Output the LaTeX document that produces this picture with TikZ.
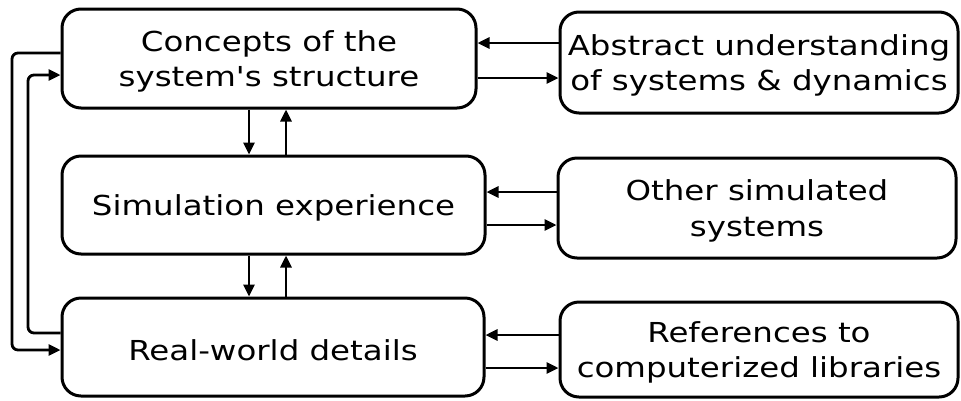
\documentclass[tikz,border=0pt]{standalone}
\usepackage{fontspec}
\setmainfont{DejaVu Sans}[FakeStretch=1.18,Ligatures=TeXOff]
\usetikzlibrary{arrows.meta}
\newcommand\tstr{\rule{0pt}{27pt}}
\begin{document}
\begin{tikzpicture}[x=1pt,y=-1pt,
  box/.style={draw,line width=3pt,rounded corners=19pt,align=center,inner sep=0pt,
    font=\fontsize{27.5}{35.5}\selectfont},
  arr/.style={line width=2.8pt,-{Triangle[length=12pt,width=11pt]}},
  loop/.style={arr,rounded corners=6pt}]
\useasboundingbox (0,0) rectangle (961,400);
\node[box,minimum width=414pt,minimum height=99pt] (ca) at (269,58.5) {\tstr Concepts of the\\system's structure};
\node[box,minimum width=423pt,minimum height=98pt] (sim) at (273.5,205) {\tstr Simulation experience};
\node[box,minimum width=422pt,minimum height=98pt] (rw) at (273,347) {\tstr Real-world details};
\node[box,minimum width=398pt,minimum height=101pt] (ab) at (759,62.5) {\tstr Abstract understanding\\of systems \& dynamics};
\node[box,minimum width=398pt,minimum height=100pt] (os) at (757,208) {\tstr Other simulated\\systems};
\node[box,minimum width=398pt,minimum height=95pt] (rf) at (759,349.5) {\tstr References to\\computerized libraries};
% horizontal pairs
\draw[arr] (ab.west |- 0,43) -- (ca.east |- 0,43);
\draw[arr] (ca.east |- 0,78) -- (ab.west |- 0,78);
\draw[arr] (os.west |- 0,192) -- (sim.east |- 0,192);
\draw[arr] (sim.east |- 0,225) -- (os.west |- 0,225);
\draw[arr] (rf.west |- 0,335) -- (rw.east |- 0,335);
\draw[arr] (rw.east |- 0,368) -- (rf.west |- 0,368);
% vertical pairs
\draw[arr] (ca.south -| 249,0) -- (sim.north -| 249,0);
\draw[arr] (sim.north -| 286,0) -- (ca.south -| 286,0);
\draw[arr] (sim.south -| 249,0) -- (rw.north -| 249,0);
\draw[arr] (rw.north -| 286,0) -- (sim.south -| 286,0);
% loops
\draw[loop] (ca.west |- 0,53) -- (12,53) -- (12,350) -- (rw.west |- 0,350);
\draw[loop] (rw.west |- 0,333) -- (28,333) -- (28,75) -- (ca.west |- 0,75);
\end{tikzpicture}
\end{document}
